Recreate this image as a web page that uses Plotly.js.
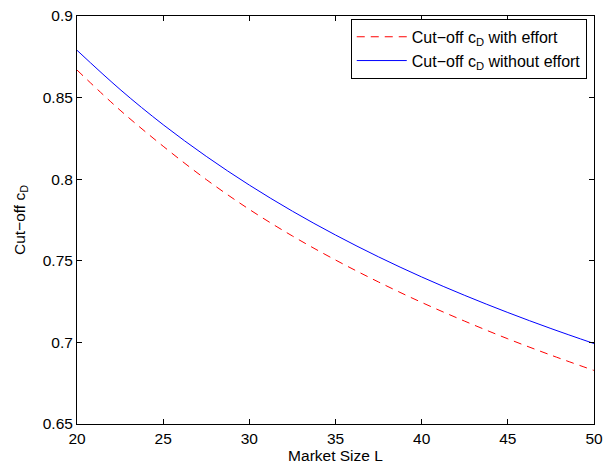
<!DOCTYPE html>
<html>
<head>
<meta charset="utf-8">
<script src="https://cdn.plot.ly/plotly-3.0.1.min.js"></script>
<style>html,body{margin:0;padding:0;background:#fff;}#chart{width:603px;height:465px;}</style>
</head>
<body>
<div id="chart"></div>
<script>
const marketSize = [20, 22.5, 25, 27.5, 30, 32.5, 35, 37.5, 40, 42.5, 45, 47.5, 50];
const cutoffWithEffort = [0.8669, 0.8423, 0.8202, 0.7998, 0.7815, 0.7652, 0.7505, 0.737, 0.7245, 0.713, 0.7022, 0.6922, 0.6828];
const cutoffWithoutEffort = [0.879, 0.855, 0.8334, 0.814, 0.7964, 0.7804, 0.7658, 0.7524, 0.7401, 0.7288, 0.7183, 0.7085, 0.6993];
const xTicks = [20, 25, 30, 35, 40, 45, 50];
const yTicks = [0.65, 0.7, 0.75, 0.8, 0.85, 0.9];
const yTickText = ['0.65', '0.7', '0.75', '0.8', '0.85', '0.9'];
const seriesNames = ['Cut\u2212off c<sub>D</sub> with effort', 'Cut\u2212off c<sub>D</sub> without effort'];

const fam = 'Liberation Sans, Arial, sans-serif';
const font = {family: fam, size: 15.5, color: '#000'};

const traces = [
  {x: marketSize, y: cutoffWithEffort, name: seriesNames[0], mode: 'lines',
   line: {color: '#ff0000', width: 1, dash: '8px,6px', shape: 'spline'}},
  {x: marketSize, y: cutoffWithoutEffort, name: seriesNames[1], mode: 'lines',
   line: {color: '#0000ff', width: 1, shape: 'spline'}}
];

const axisCommon = {
  showgrid: false, zeroline: false, showline: true, mirror: 'ticks',
  linecolor: '#000', linewidth: 1, ticks: 'inside', ticklen: 5, tickcolor: '#000',
  tickfont: font
};

const layout = {
  width: 603, height: 465,
  margin: {l: 77, r: 9, t: 16, b: 41},
  paper_bgcolor: '#fff', plot_bgcolor: '#fff',
  font: font,
  showlegend: true,
  legend: {x: 0.986, y: 0.993, xanchor: 'right', yanchor: 'top',
           bordercolor: '#000', borderwidth: 1, bgcolor: '#fff',
           font: {family: fam, size: 16, color: '#000'},
           itemwidth: 50, tracegroupgap: 0},
  xaxis: Object.assign({}, axisCommon, {
    range: [20, 50], tickvals: xTicks, ticktext: xTicks.map(String),
    title: {text: 'Market Size L', font: {family: fam, size: 15.5, color: '#000'}, standoff: 4}
  }),
  yaxis: Object.assign({}, axisCommon, {
    range: [0.65, 0.9], tickvals: yTicks, ticktext: yTickText,
    title: {text: 'Cut\u2212off c<sub>D</sub>', font: {family: fam, size: 15.5, color: '#000'}, standoff: 13}
  })
};

Plotly.newPlot('chart', traces, layout, {displayModeBar: false, staticPlot: true});
</script>
</body>
</html>
